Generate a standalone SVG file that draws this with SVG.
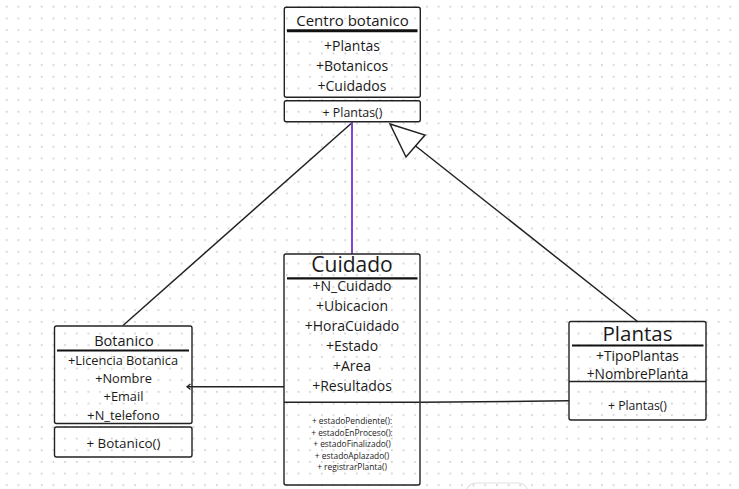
<svg xmlns="http://www.w3.org/2000/svg" width="739" height="489" viewBox="0 0 739 489">
  <defs>
    <pattern id="dots" patternUnits="userSpaceOnUse" x="0" y="0" width="11.67" height="11.67">
      <rect x="5.8" y="5.8" width="1.8" height="1.8" fill="#d2d2d2"/>
    </pattern>
    <style>
      .box { fill: none; stroke: #222; stroke-width: 1.4; }
      .ul { stroke: #111; }
      .t { font-family: "Open Sans", "Noto Sans", sans-serif; fill: #1a1a1a; text-anchor: middle; }
      .conn { stroke: #222; stroke-width: 1.5; fill: none; }
    </style>
  </defs>
  <rect width="739" height="489" fill="#ffffff"/>
  <rect width="739" height="489" fill="url(#dots)"/>

  <g id="connectors">
    <line class="conn" x1="351.7" y1="123" x2="123" y2="325.5"/>
    <line x1="352" y1="122" x2="352" y2="254" stroke="#8347d4" stroke-width="2"/>
    <line class="conn" x1="415" y1="145.5" x2="637.5" y2="321.5"/>
    <polygon points="390,124 425,135 406,157" fill="#ffffff" stroke="#222" stroke-width="1.5" stroke-linejoin="miter"/>
    <line class="conn" x1="284" y1="386.8" x2="187.5" y2="386.8"/>
    <polyline points="190.5,384 187,386.8 190.5,389.6" fill="none" stroke="#222" stroke-width="1.3"/>
    <line class="conn" x1="420.5" y1="402.3" x2="569" y2="400.8"/>
  </g>

  <g id="centro-botanico">
    <rect class="box" x="284.3" y="7.3" width="136" height="90" rx="2"/>
    <line class="ul" x1="287" y1="30.8" x2="417.5" y2="30.8" stroke-width="3"/>
    <text class="t" x="352.5" y="26" font-size="15">Centro botanico</text>
    <text class="t" x="352" y="50.5" font-size="14">+Plantas</text>
    <text class="t" x="352" y="70.5" font-size="14">+Botanicos</text>
    <text class="t" x="352" y="90.5" font-size="14">+Cuidados</text>
    <rect class="box" x="284.3" y="100.8" width="136" height="21" rx="2"/>
    <text class="t" x="352.5" y="117" font-size="12.4">+ Plantas()</text>
  </g>

  <g id="cuidado">
    <rect class="box" x="284" y="254" width="136" height="231" rx="2"/>
    <line class="ul" x1="287" y1="278.3" x2="417.5" y2="278.3" stroke-width="2.2"/>
    <text class="t" x="352" y="271.5" font-size="21">Cuidado</text>
    <text class="t" x="352" y="291" font-size="14">+N_Cuidado</text>
    <text class="t" x="352" y="311" font-size="14">+Ubicacion</text>
    <text class="t" x="352" y="331" font-size="14">+HoraCuidado</text>
    <text class="t" x="352" y="351" font-size="14">+Estado</text>
    <text class="t" x="352" y="371" font-size="14">+Area</text>
    <text class="t" x="352" y="391" font-size="14">+Resultados</text>
    <line x1="284" y1="402.3" x2="420" y2="402.3" stroke="#222" stroke-width="1.6"/>
    <text class="t" x="352" y="424" font-size="8.4">+ estadoPendiente():</text>
    <text class="t" x="352" y="435.5" font-size="8.4">+ estadoEnProceso():</text>
    <text class="t" x="352" y="447" font-size="8.4">+ estadoFinalizado()</text>
    <text class="t" x="352" y="458.5" font-size="8.4">+ estadoAplazado()</text>
    <text class="t" x="352" y="470" font-size="8.4">+ registrarPlanta()</text>
  </g>

  <g id="botanico">
    <rect class="box" x="54.5" y="326" width="137.5" height="97.5" rx="2"/>
    <line class="ul" x1="57" y1="350.5" x2="189" y2="350.5" stroke-width="2"/>
    <text class="t" x="124" y="346" font-size="14.5">Botanico</text>
    <text class="t" x="123" y="365" font-size="12.8">+Licencia Botanica</text>
    <text class="t" x="123.5" y="383" font-size="12.8">+Nombre</text>
    <text class="t" x="123.5" y="400.5" font-size="12.8">+Email</text>
    <text class="t" x="123.5" y="419.5" font-size="12.8">+N_telefono</text>
    <rect class="box" x="54.5" y="427" width="137.5" height="30" rx="2"/>
    <text class="t" x="123.5" y="447.5" font-size="13.4">+ Botanico()</text>
  </g>

  <g id="plantas">
    <rect class="box" x="569" y="321.5" width="137" height="98.5" rx="2"/>
    <line class="ul" x1="572" y1="345.5" x2="703.5" y2="345.5" stroke-width="2"/>
    <text class="t" x="637.5" y="341" font-size="20.5">Plantas</text>
    <text class="t" x="637.5" y="361" font-size="13.8">+TipoPlantas</text>
    <text class="t" x="637.5" y="379" font-size="13.8">+NombrePlanta</text>
    <line x1="569" y1="381.5" x2="706" y2="381.5" stroke="#222" stroke-width="1.4"/>
    <text class="t" x="637.5" y="409.5" font-size="12.2">+ Plantas()</text>
  </g>

  <rect x="466" y="483" width="62" height="24" rx="10" fill="none" stroke="#e2e2e2" stroke-width="1.2"/>
</svg>
